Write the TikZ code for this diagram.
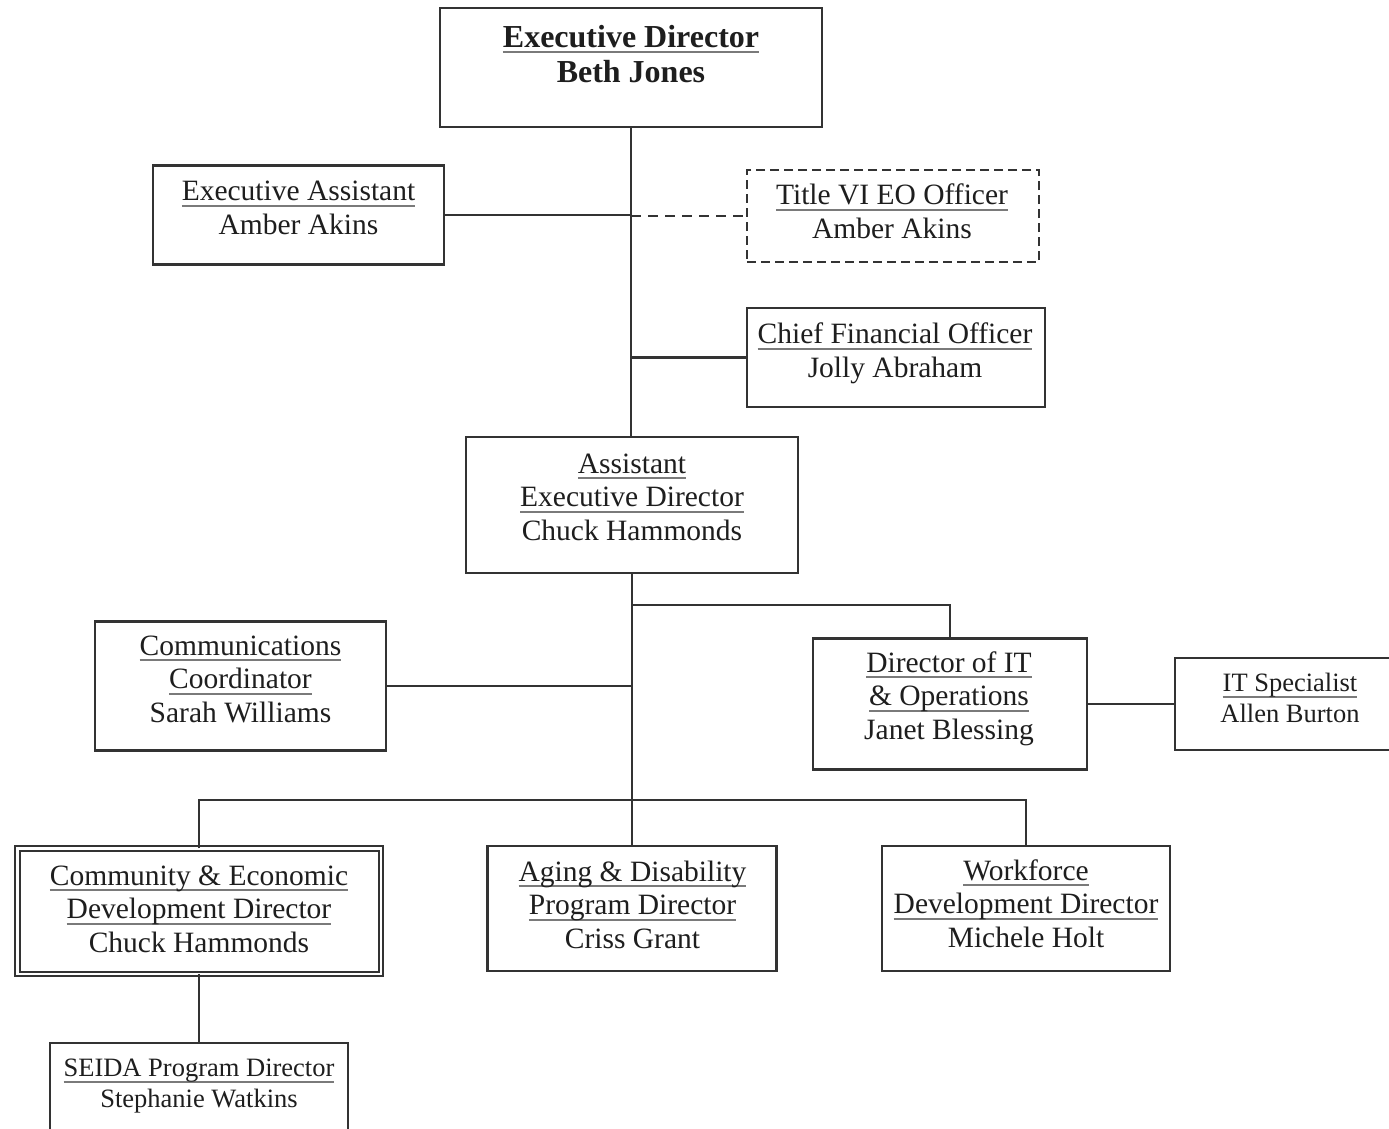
\documentclass[tikz,border=0pt]{standalone}
\usepackage{fontspec}
\setmainfont{Liberation Serif}
\definecolor{lc}{HTML}{333333}
\definecolor{tc}{HTML}{1E1E1E}
\definecolor{ulc}{HTML}{7A7A7A}
% underlined title line
\newcommand\ttlline[1]{\setbox0\hbox{#1}\rlap{\textcolor{ulc}{\rule[-6pt]{\wd0}{2pt}}}\box0}
\tikzset{
  box/.style={draw=lc, line width=2.5pt, fill=white, inner sep=0pt, outer sep=0pt},
  conn/.style={draw=lc, line width=2.5pt},
  txt/.style={align=center, inner sep=0pt, text=tc, font=\fontsize{29.5}{33.5}\selectfont},
  bigtxt/.style={align=center, inner sep=0pt, text=tc, font=\fontsize{32}{35.5}\selectfont\bfseries},
  smalltxt/.style={align=center, inner sep=0pt, text=tc, font=\fontsize{26.5}{30.5}\selectfont},
}
\begin{document}
\begin{tikzpicture}[x=1pt, y=-1pt]
\useasboundingbox (0,0) rectangle (1389,1129);
\clip (0,0) rectangle (1389,1129);

% boxes
\node[box, minimum width=382, minimum height=119] (ed) at (631,67.5) {};
\node[box, minimum width=291, minimum height=99] (ea) at (298.5,215) {};
\node[box, dash pattern=on 9pt off 5pt, minimum width=292, minimum height=92] (t6) at (893,216) {};
\node[box, minimum width=298, minimum height=99] (cfo) at (896,357.5) {};
\node[box, minimum width=332, minimum height=136] (aed) at (632,505) {};
\node[box, minimum width=291, minimum height=129] (comm) at (240.5,686) {};
\node[box, minimum width=274, minimum height=131] (dit) at (950,704) {};
\node[box, minimum width=225, minimum height=92] (its) at (1287.5,704) {};
\node[box, line width=2pt, double=white, double distance=2.5pt, minimum width=363.5, minimum height=125.5] (ced) at (199,911) {};
\node[box, minimum width=289, minimum height=125] (aging) at (632,908.5) {};
\node[box, minimum width=288, minimum height=125] (wf) at (1026,908.5) {};
\node[box, minimum width=298, minimum height=100] (seida) at (199,1093) {};

% texts
\node[bigtxt] (edt) at (631,57.7) {\strut\ttlline{Executive Director}\\Beth Jones\strut};
\node[txt] (eat) at (298.5,211) {\strut\ttlline{Executive Assistant}\\Amber Akins\strut};
\node[txt] (t6t) at (892,215) {\strut\ttlline{Title VI EO Officer}\\Amber Akins\strut};
\node[txt] (cfot) at (895,354) {\strut\ttlline{Chief Financial Officer}\\Jolly Abraham\strut};
\node[txt] (aedt) at (632,499.8) {\strut\ttlline{Assistant}\\\ttlline{Executive Director}\\Chuck Hammonds\strut};
\node[txt] (commt) at (240.5,681.8) {\strut\ttlline{Communications}\\\ttlline{Coordinator}\\Sarah Williams\strut};
\node[txt] (ditt) at (949,698.8) {\strut\ttlline{Director of IT}\\\ttlline{\& Operations}\\Janet Blessing\strut};
\node[smalltxt] (itst) at (1290,701) {\strut\ttlline{IT Specialist}\\Allen Burton\strut};
\node[txt] (cedt) at (199,911.8) {\strut\ttlline{Community \& Economic}\\\ttlline{Development Director}\\Chuck Hammonds\strut};
\node[txt] (agingt) at (632.5,907.8) {\strut\ttlline{Aging \& Disability}\\\ttlline{Program Director}\\Criss Grant\strut};
\node[txt] (wft) at (1026,906.8) {\strut\ttlline{Workforce}\\\ttlline{Development Director}\\Michele Holt\strut};
\node[smalltxt] (seidat) at (199,1086) {\strut\ttlline{SEIDA Program Director}\\Stephanie Watkins\strut};

% junction points
\coordinate (b1) at (632,605);
\coordinate (b2) at (632,800);

% connectors
\draw[conn] (ed.south) -- (ed.south |- aed.north);
\draw[conn] (ea.east) -- (ea.east -| ed.south);
\draw[conn, dash pattern=on 10pt off 7pt] (ed.south |- t6.west) -- (t6.west);
\draw[conn] (ed.south |- cfo.west) -- (cfo.west);
\draw[conn] (aed.south) -- (aging.north);
\draw[conn] (b1) -| (dit.north);
\draw[conn] (comm.east) -- (comm.east -| aed.south);
\draw[conn] (dit.east) -- (its.west);
\draw[conn] (ced.north) -- (ced.north |- b2) -- (wf.north |- b2) -- (wf.north);
\draw[conn] (ced.south) -- (seida.north);
\end{tikzpicture}
\end{document}
